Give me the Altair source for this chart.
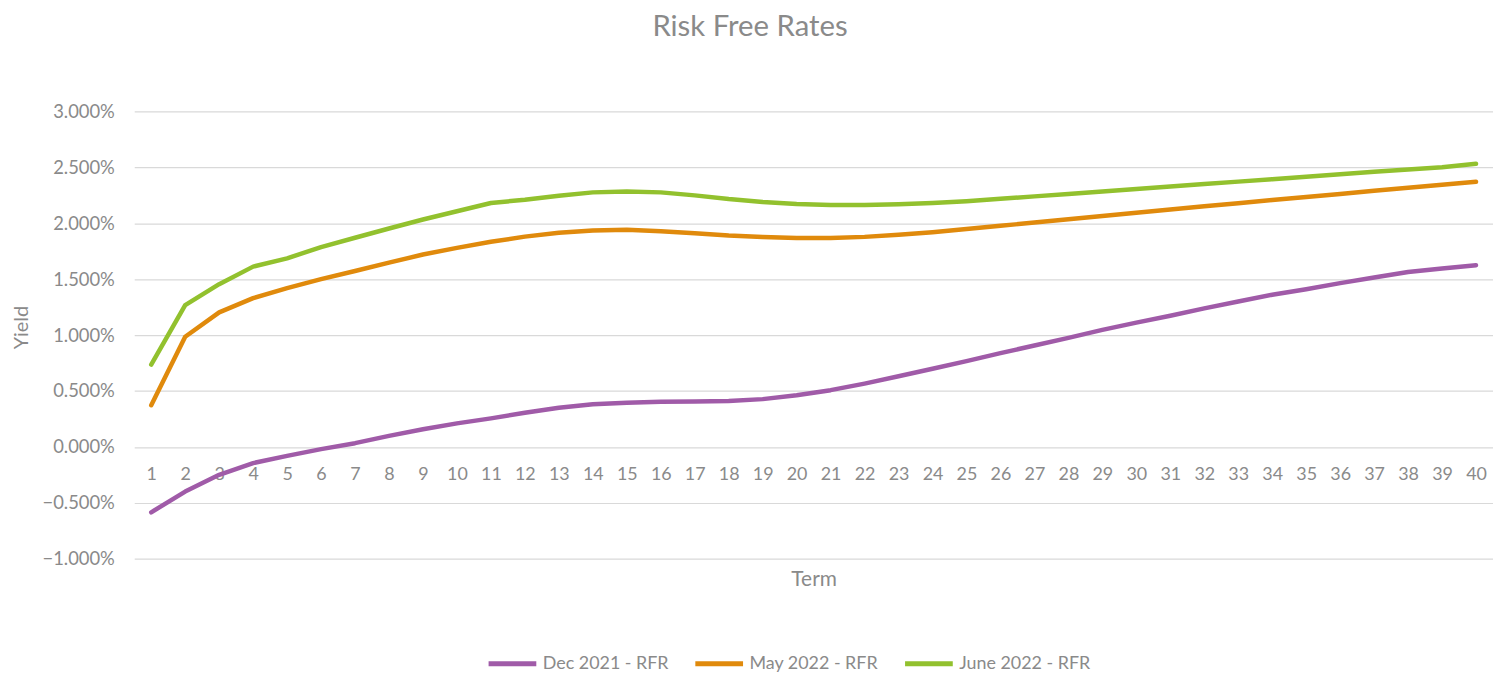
import altair as alt
import pandas as pd

terms = list(range(1, 41))

dec_2021 = [-0.585, -0.400, -0.250, -0.145, -0.080, -0.020, 0.033, 0.098, 0.157, 0.210,
            0.255, 0.305, 0.350, 0.382, 0.395, 0.403, 0.405, 0.410, 0.427, 0.462,
            0.507, 0.566, 0.631, 0.699, 0.767, 0.838, 0.907, 0.975, 1.046, 1.111,
            1.173, 1.238, 1.300, 1.360, 1.410, 1.464, 1.514, 1.564, 1.595, 1.625]

may_2022 = [0.373, 0.985, 1.203, 1.330, 1.420, 1.500, 1.573, 1.647, 1.720, 1.780,
            1.834, 1.880, 1.914, 1.935, 1.941, 1.929, 1.911, 1.890, 1.876, 1.867,
            1.867, 1.878, 1.896, 1.920, 1.948, 1.977, 2.006, 2.035, 2.064, 2.093,
            2.122, 2.151, 2.179, 2.207, 2.235, 2.262, 2.290, 2.317, 2.344, 2.371]

june_2022 = [0.735, 1.268, 1.455, 1.612, 1.686, 1.787, 1.870, 1.953, 2.033, 2.107,
             2.181, 2.210, 2.246, 2.276, 2.284, 2.276, 2.249, 2.216, 2.190, 2.172,
             2.163, 2.163, 2.169, 2.181, 2.197, 2.218, 2.240, 2.262, 2.284, 2.306,
             2.328, 2.350, 2.372, 2.394, 2.416, 2.438, 2.460, 2.480, 2.500, 2.531]

series_names = ["Dec 2021 - RFR", "May 2022 - RFR", "June 2022 - RFR"]
series_values = [dec_2021, may_2022, june_2022]
series_colors = ["#A05BA8", "#E08A0C", "#92C12E"]
y_ticks = [-0.01, -0.005, 0.0, 0.005, 0.01, 0.015, 0.02, 0.025, 0.03]

rows = []
for name, vals in zip(series_names, series_values):
    for t, v in zip(terms, vals):
        rows.append({"Term": t, "Yield": v / 100.0, "Series": name})
df = pd.DataFrame(rows)

FONT = "Lato"
GREY = "#8a8a8a"
W, H = 1367, 450

chart = alt.Chart(df).mark_line(strokeWidth=4.5, strokeCap="round", strokeJoin="round").encode(
    x=alt.X("Term:O", sort=terms,
            scale=alt.Scale(type="point", padding=0.5),
            axis=alt.Axis(title="Term", labelAngle=0, domain=False, ticks=False, tickSize=0,
                          grid=False, labelPadding=19, offset=-112.5,
                          labelFont=FONT, labelFontSize=18, labelColor=GREY,
                          titleFont=FONT, titleFontSize=21, titleColor=GREY,
                          titleFontWeight="normal", titleY=133, titleBaseline="middle")),
    y=alt.Y("Yield:Q",
            scale=alt.Scale(domain=[-0.01, 0.03], nice=False, zero=False),
            axis=alt.Axis(title="Yield", values=y_ticks, format=".3%", domain=False, ticks=False,
                          labelPadding=20, gridColor="#d9d9d9", gridWidth=1.2,
                          labelFont=FONT, labelFontSize=18.5, labelColor=GREY,
                          titleFont=FONT, titleFontSize=20, titleColor=GREY,
                          titleFontWeight="normal", titleX=-113, titleY=217,
                          titleBaseline="middle", titleAlign="center")),
    color=alt.Color("Series:N", sort=series_names,
                    scale=alt.Scale(domain=series_names, range=series_colors),
                    legend=alt.Legend(title=None, orient="none", direction="horizontal",
                                      legendX=354, legendY=529,
                                      symbolType="stroke", symbolSize=2304,
                                      symbolStrokeWidth=5, labelOffset=4,
                                      columnPadding=16,
                                      labelFont=FONT, labelFontSize=18, labelColor=GREY)),
).properties(
    width=W, height=H,
    title=alt.TitleParams("Risk Free Rates", font=FONT, fontSize=29.5, color=GREY,
                          fontWeight="normal", anchor="middle", dx=-64, offset=60),
    autosize=alt.AutoSizeParams(type="none"),
    padding={"left": 127, "top": 102, "right": 0, "bottom": 118},
).configure_view(stroke=None)

chart.save("out.html", embed_options={"renderer": "svg", "actions": False})
